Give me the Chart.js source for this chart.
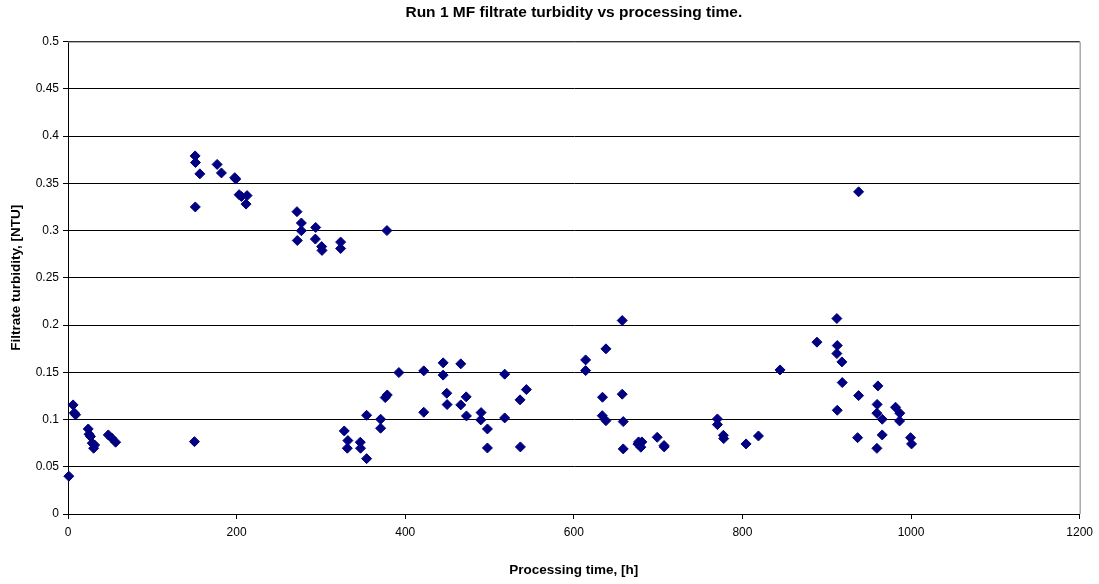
<!DOCTYPE html>
<html>
<head>
<meta charset="utf-8">
<script src="https://cdn.jsdelivr.net/npm/chart.js@4"></script>
<style>
  html, body { margin: 0; padding: 0; background: #fff; }
  #wrap { width: 1099px; height: 584px; }
</style>
</head>
<body>
<div id="wrap"><canvas id="turbidity-chart"></canvas></div>
<script>
const chartTitle = 'Run 1 MF filtrate turbidity vs processing time.';
const xAxisTitle = 'Processing time, [h]';
const yAxisTitle = 'Filtrate turbidity, [NTU]';

// processing time [h]
const timeHours = [
    1, 6, 7.5, 9, 24, 25, 26.7, 28.8, 30.4, 31.6, 47.8, 51.7, 56.5, 150,
    150.8, 151.2, 156.4, 151, 176.9, 182, 197.8, 199, 203, 205.7, 212.4, 211.2,
    271.6, 276.8, 276.8, 272, 293.8, 293.4, 300.9, 301.3, 323.4, 323.4, 378.3,
    327.7, 332, 331.3, 346.7, 347, 354.2, 354.2, 370.8, 370.8, 376.3, 378.7,
    392.5, 422, 422, 445, 445, 449.3, 449.7, 465.9, 465.9, 472.3, 472.6,
    490, 489.6, 497.5, 497.5, 518, 518, 536.2, 543.7, 536.6,
    657.4, 638.1, 614, 614, 634, 657.4, 633.7, 638.1, 658.6, 658.6,
    676.8, 680.7, 679.5, 676, 698.9, 707.2, 707,
    770.3, 770.3, 777.4, 777.8, 804.3, 819,
    844.6, 888.4, 912, 912.5, 912, 918, 918.4, 912.5, 937.8, 937.8, 936.6,
    960.7, 959.8, 959.5, 965.8, 965.8, 959.5, 981.6, 986.7, 986.4, 999.4, 1000.6
];

// filtrate turbidity [NTU]
const turbidityNTU = [
    0.040, 0.1155, 0.107, 0.105, 0.090, 0.0844, 0.082, 0.075, 0.0696, 0.073, 0.0837, 0.0805, 0.076, 0.0766,
    0.379, 0.372, 0.360, 0.325, 0.370, 0.361, 0.356, 0.3545, 0.338, 0.336, 0.337, 0.328,
    0.320, 0.308, 0.2998, 0.2895, 0.3033, 0.291, 0.283, 0.279, 0.2878, 0.281, 0.300,
    0.0879, 0.0777, 0.0696, 0.076, 0.0696, 0.0586, 0.1045, 0.1003, 0.0908, 0.1232, 0.126,
    0.1497, 0.1515, 0.1077, 0.160, 0.147, 0.1278, 0.1158, 0.1589, 0.1155, 0.124, 0.1038,
    0.1073, 0.0996, 0.090, 0.0699, 0.148, 0.1017, 0.1208, 0.1317, 0.071,
    0.2048, 0.1748, 0.1631, 0.1518, 0.1236, 0.1268, 0.1041, 0.0988, 0.0978, 0.0689,
    0.0763, 0.0763, 0.0707, 0.074, 0.0812, 0.071, 0.0725,
    0.1006, 0.0946, 0.0833, 0.0798, 0.0742, 0.0826,
    0.1525, 0.1819, 0.2069, 0.1783, 0.1698, 0.161, 0.1391, 0.1098, 0.341, 0.1253, 0.0808,
    0.1356, 0.116, 0.1067, 0.1003, 0.0837, 0.0695, 0.113, 0.1067, 0.0985, 0.0808, 0.0742
];

const points = timeHours.map((t, i) => ({ x: t, y: turbidityNTU[i] }));

// gray frame round the plot area, like the spreadsheet original
const plotFrame = {
    id: 'plotFrame',
    beforeDatasetsDraw(chart) {
        const { ctx, chartArea: a } = chart;
        ctx.save();
        ctx.strokeStyle = '#808080';
        ctx.lineWidth = 1;
        ctx.beginPath();
        ctx.moveTo(a.left, a.top + 0.5);
        ctx.lineTo(a.right + 0.5, a.top + 0.5);
        ctx.lineTo(a.right + 0.5, a.bottom);
        ctx.stroke();
        ctx.restore();
    }
};

const family = 'Arial, "Liberation Sans", sans-serif';
const tickFont = { family: family, size: 12 };
const axisTitleFont = { family: family, size: 13.5, weight: 'bold' };
const titleFont = { family: family, size: 15.5, weight: 'bold' };

new Chart(document.getElementById('turbidity-chart'), {
    type: 'scatter',
    data: {
        datasets: [{
            label: 'Turbidity',
            data: points,
            pointStyle: 'rectRot',
            pointRadius: 5,
            pointHoverRadius: 5,
            backgroundColor: '#000080',
            borderColor: '#000080',
            borderWidth: 1,
            clip: false
        }]
    },
    options: {
        responsive: true,
        maintainAspectRatio: false,
        animation: false,
        layout: { padding: { left: 0, right: 18, top: 0, bottom: 0 } },
        plugins: {
            legend: { display: false },
            tooltip: { enabled: false },
            title: {
                display: true,
                text: chartTitle,
                color: '#000',
                font: titleFont,
                fullSize: false,
                padding: { top: 3, bottom: 20 }
            }
        },
        scales: {
            x: {
                type: 'linear',
                min: 0,
                max: 1200,
                ticks: {
                    stepSize: 200,
                    color: '#000',
                    font: tickFont,
                    padding: 6,
                    maxRotation: 0,
                    callback: v => String(v)
                },
                grid: { drawOnChartArea: false, drawTicks: true, tickLength: 5, color: '#000' },
                border: { color: '#000', width: 1 },
                title: { display: true, text: xAxisTitle, color: '#000', font: axisTitleFont, padding: { top: 0, bottom: 6 } },
                afterFit(scale) { scale.height = 70; }
            },
            y: {
                min: 0,
                max: 0.5,
                ticks: {
                    stepSize: 0.05,
                    color: '#000',
                    font: tickFont,
                    padding: 4,
                    callback: v => String(parseFloat(v.toFixed(2)))
                },
                grid: { color: '#000', lineWidth: 1, tickLength: 5 },
                border: { color: '#000', width: 1 },
                title: { display: true, text: yAxisTitle, color: '#000', font: axisTitleFont, padding: { top: 8, bottom: 0 } },
                afterFit(scale) { scale.width = 68; }
            }
        }
    },
    plugins: [plotFrame]
});
</script>
</body>
</html>
